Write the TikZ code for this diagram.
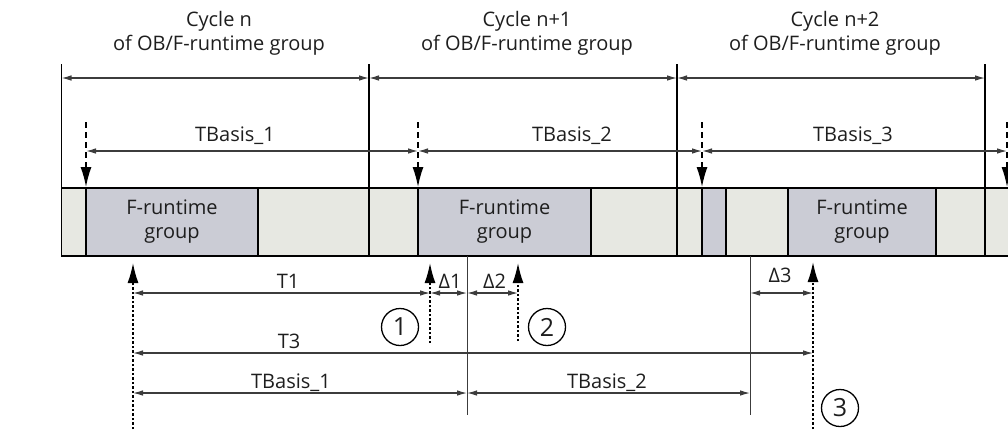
\documentclass[tikz,border=0pt]{standalone}
\usepackage{fontspec}
\setmainfont{Open Sans}
\usetikzlibrary{arrows.meta,calc}
\definecolor{cslot}{HTML}{E7E8E2}
\definecolor{cgroup}{HTML}{CBCCD5}
\definecolor{cdim}{HTML}{3C3C3C}
\definecolor{cink}{HTML}{1E1E1E}

\begin{document}
\begin{tikzpicture}[
    x=1pt, y=-1pt,
    lbl/.style={font=\fontsize{20}{24}\selectfont, text=cink, inner sep=0pt},
    dimline/.style={{Latex[length=10pt,width=5.5pt]}-{Latex[length=10pt,width=5.5pt]}, draw=cdim, line width=1.1pt},
    trigdown/.style={-{Latex[length=20pt,width=11pt]}, line width=1.4pt, dash pattern=on 6pt off 4pt},
    trigup/.style={-{Latex[length=20pt,width=11pt]}, line width=1.6pt, dash pattern=on 2.5pt off 2pt},
    grp/.style={draw, fill=cgroup, line width=1.6pt, minimum height=68pt, inner sep=0pt,
      align=center, text=cink, font=\fontsize{20}{24}\selectfont},
    numcirc/.style={circle, draw, line width=1.3pt, minimum size=37pt, inner sep=0pt,
      text=cink, font=\fontsize{25}{25}\selectfont},
  ]
  \clip (0,0) rectangle (1008,429);
  % the time bar
  \filldraw[fill=cslot, line width=1.6pt] (61.5,188) rectangle (1030,256);
  \node[grp, minimum width=172pt] (g1) at (172,222) {F-runtime\\group};
  \node[grp, minimum width=173pt] (g2) at (504.5,222) {F-runtime\\group};
  \node[grp, minimum width=24pt] (g3) at (714,222) {};
  \node[grp, minimum width=148pt] (g4) at (862,222) {F-runtime\\group};
  % cycles of the OB
  \foreach \x [count=\i] in {61.5,369,677,985} {
    \coordinate (ct\i) at (\x,64);
    \coordinate (cb\i) at (\x,256);
    \draw[line width=1.5pt] (ct\i) -- (cb\i);
  }
  \foreach \a/\b in {1/2,2/3,3/4}
    \draw[dimline] ($(ct\a)+(0,14)$) -- ($(ct\b)+(0,14)$);
  \node[lbl, align=center] (cyc1) at (219,33.5) {Cycle n\\of OB/F-runtime group};
  \node[lbl, align=center] (cyc2) at (527,33.5) {Cycle n+1\\of OB/F-runtime group};
  \node[lbl, align=center] (cyc3) at (835,33.5) {Cycle n+2\\of OB/F-runtime group};
  % start of each TBasis
  \foreach \x [count=\i] in {86,418,702,1007} {
    \coordinate (tt\i) at (\x,122);
    \coordinate (tb\i) at (\x,187);
    \draw[trigdown] (tt\i) -- (tb\i);
  }
  \foreach \a/\b in {1/2,2/3,3/4}
    \draw[dimline] ($(tt\a)+(0,29)$) -- ($(tt\b)+(0,29)$);
  \node[lbl, anchor=base] (tbl1) at (235,141) {TBasis\_1};
  \node[lbl, anchor=base] (tbl2) at (572,141) {TBasis\_2};
  \node[lbl, anchor=base] (tbl3) at (853,141) {TBasis\_3};
  % measured instants
  \coordinate (s0) at (133,429);  \coordinate (s0t) at (133,263);
  \coordinate (s1) at (430,343);  \coordinate (s1t) at (430,263);
  \coordinate (s2) at (518,341);  \coordinate (s2t) at (518,263);
  \coordinate (s3) at (813,429);  \coordinate (s3t) at (813,262);
  \foreach \i in {0,1,2,3}
    \draw[trigup] (s\i) -- (s\i t);
  \coordinate (v1) at (467,256);  \coordinate (v1b) at (467,415);
  \coordinate (v2) at (750,256);  \coordinate (v2b) at (750,415);
  \draw[cdim, line width=1pt] (v1) -- (v1b);
  \draw[cdim, line width=1pt] (v2) -- (v2b);
  \coordinate (rowA) at (0,293);
  \coordinate (rowB) at (0,353);
  \coordinate (rowC) at (0,393);
  \draw[dimline] (s0 |- rowA) -- (s1 |- rowA);
  \draw[dimline] (s1 |- rowA) -- (v1 |- rowA);
  \draw[dimline] (v1 |- rowA) -- (s2 |- rowA);
  \draw[dimline] (v2 |- rowA) -- (s3 |- rowA);
  \draw[dimline] (s0 |- rowB) -- (s3 |- rowB);
  \draw[dimline] (s0 |- rowC) -- (v1 |- rowC);
  \draw[dimline] (v1 |- rowC) -- (v2 |- rowC);
  \node[lbl, anchor=base] (lt1) at (288,288) {T1};
  \node[lbl, anchor=base] (ld1) at (450,288) {Δ1};
  \node[lbl, anchor=base] (ld2) at (494.5,288) {Δ2};
  \node[lbl, anchor=base] (ld3) at (780,282) {Δ3};
  \node[lbl, anchor=base] (lt3) at (289,348) {T3};
  \node[lbl, anchor=base] (lb1) at (291,388) {TBasis\_1};
  \node[lbl, anchor=base] (lb2) at (607,388) {TBasis\_2};
  \node[numcirc] (n1) at (400,327) {1};
  \node[numcirc] (n2) at (547,327) {2};
  \node[numcirc] (n3) at (840,408) {3};
\end{tikzpicture}
\end{document}
